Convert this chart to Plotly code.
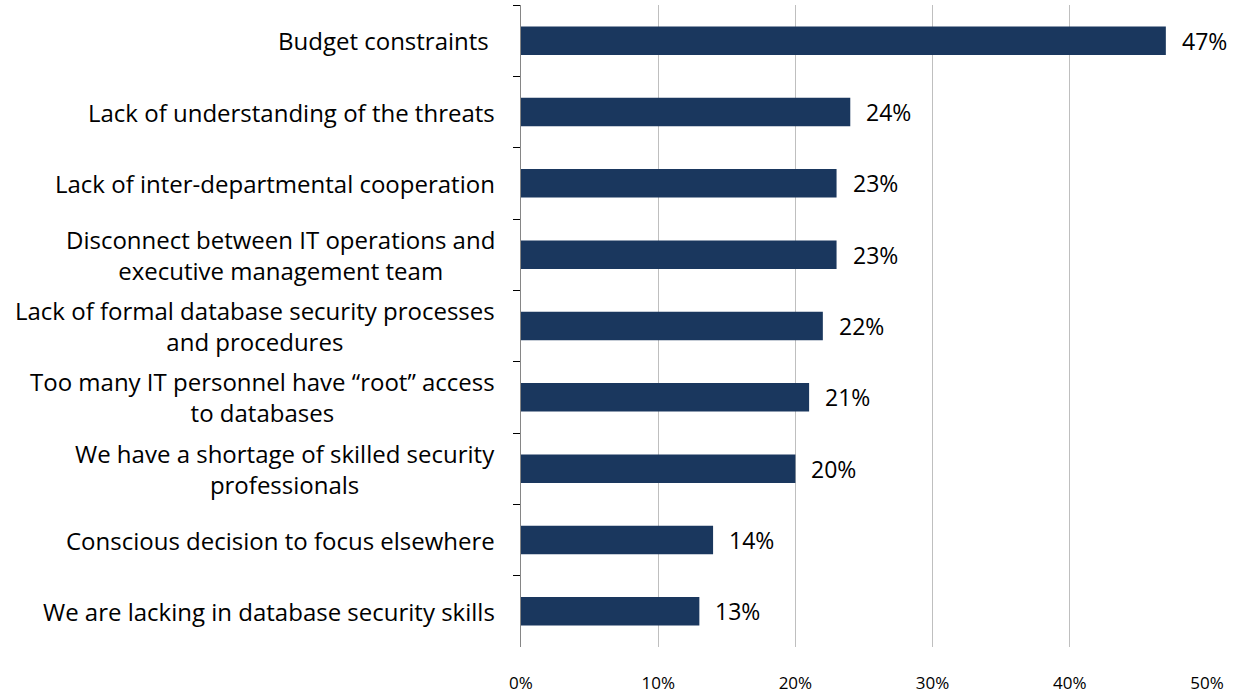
import plotly.graph_objects as go

categories = [
    "Budget constraints ",
    "Lack of understanding of the threats",
    "Lack of inter-departmental cooperation",
    "Disconnect between IT operations and<br>executive management team",
    "Lack of formal database security processes<br>and procedures",
    "Too many IT personnel have “root” access<br>to databases",
    "We have a shortage of skilled security<br>professionals",
    "Conscious decision to focus elsewhere",
    "We are lacking in database security skills",
]
values = [0.47, 0.24, 0.23, 0.23, 0.22, 0.21, 0.20, 0.14, 0.13]
x_ticks = [0, 0.1, 0.2, 0.3, 0.4, 0.5]
x_tick_labels = ["0%", "10%", "20%", "30%", "40%", "50%"]

FONT = "Open Sans"
BAR = "#1A375E"

fig = go.Figure()
fig.add_trace(go.Bar(
    x=values, y=categories, orientation="h",
    marker=dict(color=BAR, line=dict(width=0)),
    hoverinfo="skip", showlegend=False,
))

annotations = []
for c, v in zip(categories, values):
    annotations.append(dict(
        x=v, y=c, xref="x", yref="y", text=f"{round(v*100)}%",
        showarrow=False, xanchor="left", yanchor="middle", xshift=14,
        font=dict(family=FONT, size=23, color="#000000"),
    ))
    annotations.append(dict(
        x=0, y=c, xref="paper", yref="y", text=c,
        showarrow=False, xanchor="right", yanchor="middle", xshift=-24,
        align="center",
        font=dict(family=FONT, size=24, color="#000000"),
    ))

fig.update_layout(
    width=1243, height=696,
    margin=dict(l=521, r=36, t=5, b=49, autoexpand=False),
    paper_bgcolor="white", plot_bgcolor="white",
    bargap=0.6,
    annotations=annotations,
    xaxis=dict(
        range=[0, 0.5], tickvals=x_ticks, ticktext=x_tick_labels,
        showgrid=True, gridcolor="#BFBFBF", gridwidth=1,
        zeroline=False, showline=False, ticks="",
        tickfont=dict(family=FONT, size=17, color="#000000"),
        ticklabelstandoff=24, automargin=False,
    ),
    yaxis=dict(
        categoryorder="array", categoryarray=categories,
        autorange="reversed",
        showticklabels=False, automargin=False,
        showline=True, linecolor="#868686", linewidth=1,
        ticks="outside", tickson="boundaries", ticklen=7,
        tickcolor="#000000", tickwidth=1,
        showgrid=False, zeroline=False,
    ),
)

fig.write_html("out.html")
